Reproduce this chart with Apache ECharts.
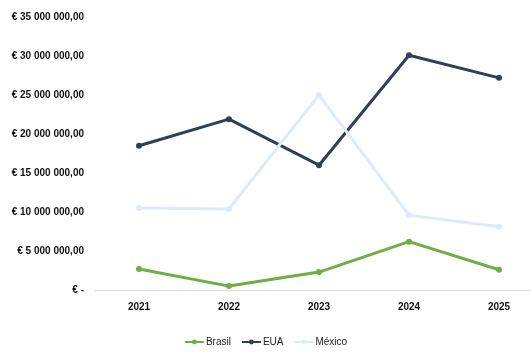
<!DOCTYPE html>
<html>
<head>
<meta charset="utf-8">
<script src="https://cdn.jsdelivr.net/npm/echarts@6/dist/echarts.min.js"></script>
<style>
html,body{margin:0;padding:0;background:#fff;}
#main{width:531px;height:354px;}
</style>
</head>
<body>
<div id="main"></div>
<script>
var years = ["2021", "2022", "2023", "2024", "2025"];
var brasil = [2.7, 0.5, 2.3, 6.2, 2.6];
var eua = [18.5, 21.9, 16.0, 30.1, 27.2];
var mexico = [10.5, 10.4, 25.0, 9.6, 8.1];

function fmtEuro(v) {
  if (v === 0) return "€ -";
  var s = String(Math.round(v * 1000000)).replace(/\B(?=(\d{3})+(?!\d))/g, " ");
  return "€ " + s + ",00";
}

var chart = echarts.init(document.getElementById("main"), null, { renderer: "canvas" });
var font = "Liberation Sans, Arial, sans-serif";
function mkSeries(name, data, color) {
  return {
    name: name,
    type: "line",
    data: data,
    symbol: "circle",
    symbolSize: 6,
    lineStyle: { width: 3, color: color },
    itemStyle: { color: color },
    emphasis: { disabled: true }
  };
}
var option = {
  animation: false,
  grid: [
    { left: 139, top: 17, width: 360, height: 273, containLabel: false },
    // background grid only for the long baseline
    { left: 95, top: 17, right: 0, height: 273, containLabel: false }
  ],
  legend: {
    top: 332,
    left: "center",
    itemWidth: 19,
    itemHeight: 6,
    itemGap: 10,
    textStyle: { fontFamily: font, fontSize: 10, color: "#222", padding: [0, 0, 0, -3] },
    data: ["Brasil", "EUA", "México"]
  },
  xAxis: [{
    type: "category",
    data: years,
    gridIndex: 0,
    boundaryGap: false,
    axisLine: { show: false },
    axisTick: { show: false },
    axisLabel: { fontFamily: font, fontWeight: "bold", fontSize: 10, color: "#111", margin: 12 }
  }, {
    type: "value",
    gridIndex: 1,
    min: 0,
    max: 1,
    axisLine: { show: true, lineStyle: { color: "#d9d9d9", width: 1 } },
    axisTick: { show: false },
    axisLabel: { show: false },
    splitLine: { show: false }
  }],
  yAxis: [{
    type: "value",
    gridIndex: 0,
    min: 0,
    max: 35,
    interval: 5,
    splitLine: { show: false },
    axisLine: { show: false },
    axisTick: { show: false },
    axisLabel: {
      fontFamily: font, fontWeight: "bold", fontSize: 10, color: "#111", margin: 55,
      formatter: fmtEuro
    }
  }, {
    type: "value",
    gridIndex: 1,
    min: 0,
    max: 1,
    show: false
  }],
  series: [
    mkSeries("Brasil", brasil, "#70AD47"),
    mkSeries("EUA", eua, "#323E53"),
    mkSeries("México", mexico, "#DEEBF7")
  ]
};
chart.setOption(option);
</script>
</body>
</html>
